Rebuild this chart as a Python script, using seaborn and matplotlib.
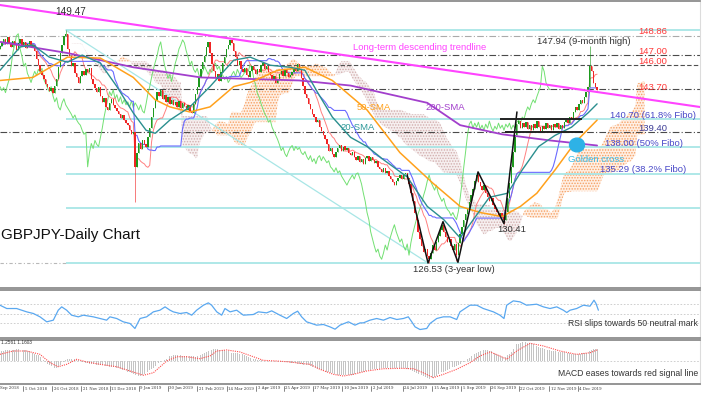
import numpy as np
import pandas as pd
import matplotlib
matplotlib.use("Agg")
import matplotlib.pyplot as plt
from matplotlib.patches import Ellipse
import seaborn as sns

# ---- daily closes (Sep 2018 -> Dec 2019), one per bar ----
CLOSES = [
    147.9, 148.3, 148.6, 148.1, 148.8, 148.2, 147.8, 148.4, 148.0, 147.5, 148.2, 148.6, 147.9, 148.3, 147.7, 148.1,
    148.4, 147.8, 148.0, 147.4, 146.6, 146.0, 145.4, 145.0, 144.6, 144.2, 143.9, 143.5, 143.8, 143.3, 144.0, 144.6,
    145.8, 147.2, 148.0, 148.9, 149.1, 147.6, 146.9, 145.9, 146.2, 145.2, 144.8, 144.3, 144.9, 145.4, 145.0, 145.6,
    145.3, 145.7, 144.6, 144.2, 143.8, 143.4, 143.9, 143.0, 142.4, 142.8, 141.9, 141.6, 142.3, 142.7, 142.1, 141.8,
    141.5, 141.2, 140.8, 141.1, 140.6, 140.3, 140.1, 139.6, 139.2, 139.4, 136.0, 137.4, 138.3, 137.8, 138.6, 138.2,
    138.0, 138.9, 139.8, 140.9, 141.8, 142.6, 143.4, 143.0, 143.6, 142.7, 143.1, 142.4, 142.9, 142.2, 142.6, 142.1,
    142.4, 141.9, 142.5, 141.8, 142.3, 142.0, 141.6, 142.1, 141.5, 141.3, 142.2, 143.2, 143.9, 144.8, 145.6, 146.3,
    146.9, 147.8, 148.3, 147.2, 146.1, 145.4, 144.7, 145.1, 144.4, 145.3, 146.2, 146.8, 147.6, 148.0, 148.5, 148.2,
    147.4, 146.8, 146.0, 146.4, 145.6, 145.3, 145.7, 145.0, 144.8, 145.4, 145.9, 145.5, 145.1, 145.6, 145.3, 146.0,
    146.2, 145.6, 145.9, 145.3, 145.0, 144.6, 144.9, 144.3, 144.6, 145.1, 145.4, 144.9, 145.6, 145.2, 144.8, 145.0,
    145.3, 145.7, 145.4, 146.1, 145.6, 144.7, 144.0, 143.2, 142.8, 142.2, 141.7, 141.2, 140.9, 140.4, 140.6, 139.9,
    139.5, 139.1, 138.7, 138.2, 137.6, 137.9, 137.3, 137.0, 137.5, 137.9, 138.1, 137.6, 138.0, 137.7, 137.9, 137.4,
    137.2, 137.5, 137.0, 136.7, 137.1, 136.5, 136.8, 136.3, 136.9, 137.1, 136.6, 137.0, 136.7, 136.4, 136.6, 136.0,
    135.8, 135.5, 135.9, 135.4, 135.6, 135.1, 134.8, 134.5, 134.2, 134.6, 134.9, 135.2, 134.8, 135.3, 135.4, 134.9,
    134.3, 133.4, 132.6, 131.5, 130.8, 129.6, 128.9, 128.2, 127.6, 127.9, 127.2, 126.9, 127.5, 128.3, 127.8, 128.6,
    129.2, 129.8, 130.3, 129.6, 129.1, 128.6, 128.9, 128.2, 127.8, 128.4, 127.3, 128.5, 129.4, 130.1, 130.8, 131.4,
    131.9, 132.5, 133.2, 133.8, 134.6, 135.2, 134.5, 134.1, 133.7, 134.2, 133.4, 133.0, 132.6, 132.9, 132.2, 131.8,
    131.6, 131.2, 131.5, 131.1, 130.8, 131.6, 132.9, 134.4, 136.0, 137.5, 139.1, 140.2, 140.5, 139.8, 140.3, 139.9,
    140.4, 139.7, 140.1, 139.6, 140.2, 139.8, 140.5, 139.9, 139.5, 140.0, 139.7, 140.3, 139.8, 140.1, 139.6, 140.2,
    139.9, 140.3, 139.7, 140.1, 139.8, 140.4, 140.6, 140.3, 140.9, 140.7, 141.4, 141.9, 141.6, 142.2, 142.6, 142.3,
    142.9, 143.4, 143.9, 145.9, 145.4, 144.3, 143.9, 143.6,
]
FIRST_OPEN = 147.6
# visible long wicks
WICK_BARS = [36, 74, 235, 250, 276, 323]
WICK_PRICES = [149.47, 132.5, 126.53, 126.7, 130.41, 147.94]

# moving averages read at a few points
SMA20_BARS = [0, 11, 18, 27, 37, 45, 55, 64, 73, 80, 85, 93, 104, 115, 128, 137, 148, 159, 167, 174,
              182, 192, 201, 210, 223, 234, 243, 252, 268, 278, 286, 295, 304, 313, 322, 327]
SMA20 = [145.5, 147.8, 148.0, 146.8, 146.3, 147.0, 146.2, 143.9, 141.3, 139.6, 139.3, 140.6, 141.9, 143.9,
         146.5, 146.8, 146.0, 145.8, 145.5, 143.3, 140.9, 138.9, 138.0, 136.7, 135.0, 132.1, 130.8, 129.0,
         133.0, 133.4, 135.7, 138.0, 139.1, 139.9, 141.3, 142.2]
SMA50_BARS = [0, 18, 37, 55, 73, 85, 93, 104, 115, 128, 137, 152, 167, 182, 201, 219, 237, 252, 263,
              275, 285, 294, 304, 315, 327]
SMA50 = [144.5, 144.8, 146.8, 146.7, 144.8, 142.6, 141.9, 141.4, 141.9, 143.9, 144.3, 145.5, 145.8,
         144.5, 141.6, 137.4, 134.4, 132.1, 131.5, 131.1, 132.1, 133.4, 135.7, 138.4, 140.6]
SMA200_BARS = [0, 37, 73, 110, 164, 192, 234, 252, 275, 301, 327]
SMA200 = [148.3, 147.2, 145.8, 144.8, 144.5, 144.0, 142.3, 140.1, 139.2, 138.6, 138.1]

# RSI(14)
RSI_BARS = [0, 3.7, 9.1, 14.6, 18.3, 21.9, 25.6, 29.2, 31.9, 33.8, 36.5, 39.2, 42.9, 45.6, 51.1, 54.8,
            58.4, 60.2, 63.9, 67.5, 71.2, 73.9, 76.7, 80.3, 84.0, 87.6, 90.4, 93.1, 94.9, 98.6, 102.2,
            105.0, 107.7, 111.4, 114.1, 115.9, 118.7, 121.4, 123.2, 126.0, 129.6, 133.3, 138.7, 141.5,
            146.0, 148.8, 153.3, 157.0, 160.6, 163.0, 165.2, 167.9, 173.4, 177.1, 180.7, 183.5, 186.2,
            190.8, 194.4, 197.2, 199.0, 202.6, 206.3, 210.0, 213.6, 217.3, 220.9, 223.6, 225.5, 227.3,
            230.0, 233.7, 235.5, 239.2, 242.8, 246.5, 250.1, 251.9, 257.4, 261.1, 264.7, 270.2, 273.8,
            276.0, 277.5, 281.1, 284.8, 288.4, 293.9, 297.6, 301.2, 304.9, 308.5, 310.4, 312.2, 315.8,
            319.5, 323.1, 325.3, 326.4, 327.7]
RSI_VALUES = [68.0, 61.0, 61.0, 54.0, 50.5, 43.5, 33.0, 36.5, 57.5, 64.5, 57.5, 47.0, 43.5, 47.0, 43.5,
              40.0, 36.5, 43.5, 40.0, 33.0, 29.5, 19.0, 40.0, 43.5, 54.0, 57.5, 64.5, 57.5, 54.0, 50.5,
              52.6, 47.0, 57.5, 68.0, 72.9, 68.0, 54.0, 47.0, 61.0, 54.0, 57.5, 47.0, 48.4, 54.0, 51.9,
              56.1, 47.0, 40.0, 50.5, 55.4, 43.5, 33.0, 26.0, 27.4, 22.4, 17.5, 26.0, 33.0, 26.0, 30.8,
              30.8, 36.5, 40.0, 36.5, 42.1, 37.9, 40.0, 43.5, 33.0, 22.4, 16.8, 19.0, 29.5, 40.0, 43.5,
              43.5, 37.9, 54.0, 68.0, 68.0, 61.0, 54.0, 47.0, 40.0, 68.0, 77.1, 75.0, 68.0, 70.1, 64.5,
              61.0, 64.5, 57.5, 52.6, 57.5, 61.0, 68.0, 65.9, 78.5, 71.5, 57.5]
RSI_LEVELS = [70, 50, 30]

# MACD main (histogram, one per bar) and signal line
MACD_MAIN = [
    1.05, 1.07, 1.09, 1.11, 1.13, 1.15, 1.17, 1.19, 1.20, 1.21, 1.22, 1.23, 1.22, 1.18, 1.14, 1.10,
    1.06, 0.98, 0.88, 0.78, 0.66, 0.58, 0.45, 0.25, 0.07, -0.12, -0.27, -0.42, -0.57, -0.68, -0.70, -0.70,
    -0.62, -0.45, -0.28, -0.10, 0.10, 0.18, 0.21, 0.23, 0.24, 0.20, 0.13, 0.08, 0.02, -0.08, -0.17, -0.22,
    -0.24, -0.27, -0.30, -0.33, -0.35, -0.37, -0.39, -0.42, -0.45, -0.48, -0.52, -0.55, -0.59, -0.62, -0.66, -0.70,
    -0.72, -0.78, -0.85, -0.92, -0.98, -1.04, -1.12, -1.20, -1.29, -1.38, -1.47, -1.52, -1.56, -1.58, -1.52, -1.40,
    -1.29, -1.14, -0.98, -0.84, -0.70, -0.55, -0.40, -0.26, -0.15, -0.02, 0.12, 0.24, 0.36, 0.48, 0.55, 0.58,
    0.60, 0.60, 0.59, 0.58, 0.57, 0.55, 0.54, 0.52, 0.51, 0.49, 0.48, 0.46, 0.48, 0.56, 0.63, 0.70,
    0.80, 0.93, 1.05, 1.14, 1.18, 1.21, 1.23, 1.22, 1.20, 1.18, 1.16, 1.12, 1.07, 1.01, 0.95, 0.89,
    0.85, 0.82, 0.79, 0.76, 0.73, 0.70, 0.62, 0.53, 0.44, 0.35, 0.27, 0.21, 0.16, 0.12, 0.08, 0.06,
    0.04, 0.02, 0.00, 0.00, 0.00, 0.00, 0.00, 0.00, -0.01, -0.03, -0.05, -0.07, -0.09, -0.11, -0.14, -0.16,
    -0.19, -0.22, -0.25, -0.28, -0.31, -0.34, -0.37, -0.40, -0.43, -0.45, -0.51, -0.59, -0.66, -0.73, -0.80, -0.87,
    -0.93, -1.00, -1.07, -1.14, -1.20, -1.26, -1.31, -1.36, -1.41, -1.45, -1.49, -1.50, -1.50, -1.50, -1.50, -1.50,
    -1.48, -1.43, -1.38, -1.33, -1.28, -1.23, -1.18, -1.13, -1.08, -1.03, -0.98, -0.93, -0.89, -0.87, -0.85, -0.82,
    -0.79, -0.76, -0.74, -0.72, -0.70, -0.70, -0.70, -0.70, -0.70, -0.70, -0.70, -0.71, -0.73, -0.75, -0.77, -0.79,
    -0.81, -0.90, -1.00, -1.11, -1.22, -1.32, -1.40, -1.50, -1.60, -1.72, -1.82, -1.86, -1.84, -1.78, -1.68, -1.55,
    -1.40, -1.29, -1.20, -1.11, -1.02, -0.93, -0.84, -0.76, -0.67, -0.58, -0.50, -0.41, -0.33, -0.22, -0.10, 0.02,
    0.18, 0.35, 0.52, 0.66, 0.76, 0.86, 0.96, 1.05, 1.08, 1.11, 1.14, 1.16, 1.10, 1.00, 0.90, 0.80,
    0.70, 0.60, 0.50, 0.40, 0.35, 0.45, 0.58, 0.70, 0.98, 1.26, 1.54, 1.75, 1.83, 1.90, 1.96, 2.00,
    1.97, 1.93, 1.89, 1.86, 1.78, 1.69, 1.60, 1.50, 1.40, 1.35, 1.30, 1.25, 1.20, 1.15, 1.10, 1.07,
    1.02, 1.00, 0.97, 0.95, 0.92, 0.90, 0.87, 0.84, 0.81, 0.78, 0.75, 0.72, 0.70, 0.73, 0.76, 0.79,
    0.82, 0.87, 0.95, 1.05, 1.14, 1.23, 1.30, 1.26,
]
SIGNAL_BARS = [0, 7.3, 14.6, 21.9, 27.4, 31.9, 36.5, 42, 47.5, 54.8, 63.9, 73, 78.5, 84, 91.3, 96.8, 102.2,
               109.5, 115, 118.7, 124.1, 131.4, 138.7, 144.2, 151.5, 158.8, 164.3, 169.8, 175.2, 182.6, 188,
               193.5, 200.8, 209.9, 219.1, 226.4, 231.8, 237.3, 242.8, 250.1, 257.4, 262.9, 268.4, 273.8,
               277.5, 283, 290.3, 297.6, 306.7, 315.8, 323.1, 327]
SIGNAL = [0.70, 1.05, 1.05, 0.70, -0.18, -0.60, -0.35, 0.18, -0.10, -0.35, -0.60, -1.16, -1.50, -1.23, 0.0,
          0.45, 0.45, 0.24, 0.53, 1.05, 1.16, 0.95, 0.45, 0.07, 0.0, -0.10, -0.24, -0.35, -0.87, -1.40,
          -1.58, -1.40, -1.05, -0.81, -0.77, -0.81, -1.23, -1.75, -1.40, -0.87, -0.18, 0.53, 0.95, 0.53,
          0.18, 1.05, 1.86, 1.58, 1.05, 0.70, 0.87, 1.16]

# analysis drawings
LEVELS = [148.86, 147.00, 146.00, 143.70, 139.40]
FIBO_LEVELS = [149.47, 140.70, 138.00, 135.29, 131.94, 126.53]
FIBO_FROM_BAR = 36
FIBO_DIAG_BARS = [36, 234.4]
FIBO_DIAG_PRICES = [149.47, 126.53]
TREND_BARS = [0, 383.3]
TREND_PRICES = [151.93, 141.89]
ZIGZAG_BARS = [223, 234.4, 242.6, 250.8, 261.8, 276, 283.1]
ZIGZAG_PRICES = [135.2, 126.53, 130.6, 126.6, 135.5, 130.41, 141.4]
RANGE_TOP = (273.8, 318.7, 140.70)
RANGE_BOTTOM = (276.6, 319.3, 139.40)
GOLDEN_CROSS = (316, 138.15)

DATE_TICKS = [12.6, 28.5, 44.4, 60.2, 76.1, 92, 107.9, 124.3, 140.2, 155.5, 171.4, 187.3,
              203.2, 220.7, 236.6, 252.5, 268.3, 284.2, 300.7, 316.5]
DATE_LABELS = ["5 Oct 2018", "26 Oct 2018", "21 Nov 2018", "13 Dec 2018", "9 Jan 2019",
               "30 Jan 2019", "21 Feb 2019", "14 Mar 2019", "3 Apr 2019", "25 Apr 2019", "17 May 2019",
               "10 Jun 2019", "2 Jul 2019", "24 Jul 2019", "15 Aug 2019", "5 Sep 2019", "26 Sep 2019",
               "22 Oct 2019", "12 Nov 2019", "4 Dec 2019"]

# ---- colours ----
UP_C, DN_C = "#1e9a1e", "#f02424"
TENKAN_C, KIJUN_C, CHIKOU_C = "#ff6a6a", "#6a6aff", "#72e072"
SMA20_C, SMA50_C, SMA200_C = "#2b8f8f", "#ffa11c", "#a23fcc"
FIBO_C, TREND_C = "#a8e6e6", "#ff44ff"
RED_TXT, BLUE_TXT, DARK_TXT = "#ff3838", "#4848c8", "#333333"

W, H = 709, 399
sns.set_style("white")
plt.rcParams["font.family"] = ["Liberation Sans", "DejaVu Sans"]
plt.rcParams["hatch.linewidth"] = 0.7

fig = plt.figure(figsize=(W / 100, H / 100), dpi=100)


def rect(top, bottom, right=700):
    return [0, 1 - bottom / H, right / W, (bottom - top) / H]


ax = fig.add_axes(rect(1.5, 288))
ax_rsi = fig.add_axes(rect(290, 337.5))
ax_macd = fig.add_axes(rect(339.5, 384))

PX_PER_BAR = 1.826
XMAX = 700 / PX_PER_BAR
for a in (ax, ax_rsi, ax_macd):
    a.set_xlim(0, XMAX)
    a.set_xticks([])
    a.set_yticks([])
    a.set_facecolor("white")
    a.spines["left"].set_visible(False)
    a.spines["right"].set_color("#dcdcdc")
    a.spines["right"].set_linewidth(0.8)
    for s in ("top", "bottom"):
        a.spines[s].set_color("#8c8c8c")
        a.spines[s].set_linewidth(1.3)

# price scale: 149.47 sits at y=30px, 126.53 at y=263px
ppu = (263 - 30) / (149.47 - 126.53)
ax.set_ylim(126.53 - (288 - 263) / ppu, 149.47 + (30 - 1.5) / ppu)

closes = np.array(CLOSES)
bars = np.arange(len(closes))
opens = np.r_[FIRST_OPEN, closes[:-1]]
highs = np.maximum(opens, closes)
lows = np.minimum(opens, closes)
for b, p in zip(WICK_BARS, WICK_PRICES):
    highs[b] = max(highs[b], p)
    lows[b] = min(lows[b], p)

# ---- Ichimoku from the bars ----
hi, lo = pd.Series(highs), pd.Series(lows)
tenkan = (hi.rolling(9, min_periods=1).max() + lo.rolling(9, min_periods=1).min()) / 2
kijun = (hi.rolling(26, min_periods=1).max() + lo.rolling(26, min_periods=1).min()) / 2
span_a = ((tenkan + kijun) / 2).values
span_b = ((hi.rolling(52, min_periods=1).max() + lo.rolling(52, min_periods=1).min()) / 2).values
cloud_x = bars + 26
ax.fill_between(cloud_x, span_a, span_b, where=span_a >= span_b, interpolate=True,
                facecolor=(1.0, 0.72, 0.5, 0.22), edgecolor="#f5a064", hatch="......", lw=0, zorder=1)
ax.fill_between(cloud_x, span_a, span_b, where=span_a < span_b, interpolate=True,
                facecolor=(0.85, 0.72, 0.72, 0.22), edgecolor="#d2aeae", hatch="......", lw=0, zorder=1)

# ---- horizontal levels ----
for lvl in LEVELS:
    if lvl == 148.86:
        ax.axhline(lvl, color="#aaaaaa", lw=0.8, ls=(0, (6, 2, 1, 2)), zorder=2)
    elif lvl == 146.00:
        ax.axhline(lvl, color="#505050", lw=0.8, ls=(0, (4, 2)), zorder=2)
    else:
        ax.axhline(lvl, color="#4a4a4a", lw=0.8, ls=(0, (6, 2, 1, 2)), zorder=2)
ax.hlines(FIBO_LEVELS, FIBO_FROM_BAR, XMAX, color=FIBO_C, lw=1.3, zorder=2)
ax.hlines(FIBO_LEVELS[-1], 0, FIBO_FROM_BAR, color="#b8b8b8", lw=0.8, ls=(0, (3, 2, 1, 2)), zorder=2)
ax.plot(FIBO_DIAG_BARS, FIBO_DIAG_PRICES, color=FIBO_C, lw=0.9, zorder=2)

# ---- indicator lines ----
sns.lineplot(x=bars[:-26], y=closes[26:], ax=ax, color=CHIKOU_C, lw=0.7, estimator=None, sort=False, zorder=3)
sns.lineplot(x=bars, y=tenkan.values, ax=ax, color=TENKAN_C, lw=0.7, alpha=0.85, estimator=None, sort=False, zorder=4)
sns.lineplot(x=bars, y=kijun.values, ax=ax, color=KIJUN_C, lw=0.8, estimator=None, sort=False, zorder=4)

# ---- candles ----
colors = np.where(closes >= opens, UP_C, DN_C)
ax.vlines(bars, lows, highs, colors=colors, lw=0.6, alpha=0.7, zorder=5)
body_lo = np.minimum(opens, closes)
body_h = np.maximum(np.abs(closes - opens), 0.12)
ax.bar(bars, body_h, bottom=body_lo, width=0.75, color=colors, lw=0, zorder=5)

sns.lineplot(x=SMA200_BARS, y=SMA200, ax=ax, color=SMA200_C, lw=1.3, estimator=None, sort=False, zorder=6)
sns.lineplot(x=SMA50_BARS, y=SMA50, ax=ax, color=SMA50_C, lw=1.1, estimator=None, sort=False, zorder=6)
sns.lineplot(x=SMA20_BARS, y=SMA20, ax=ax, color=SMA20_C, lw=1.0, estimator=None, sort=False, zorder=6)

# ---- drawings ----
ax.plot(TREND_BARS, TREND_PRICES, color=TREND_C, lw=1.5, zorder=7)
ax.plot(ZIGZAG_BARS, ZIGZAG_PRICES, color="#111111", lw=1.1, zorder=7)
for x0, x1, y in (RANGE_TOP, RANGE_BOTTOM):
    ax.hlines(y, x0, x1, color="#222222", lw=1.4, zorder=7)
ax.add_patch(Ellipse(GOLDEN_CROSS, width=8.2, height=1.35, color="#2eb2e6", zorder=8))


def T(x, y, s, color=DARK_TXT, size=6.8, ha="left", **kw):
    fig.text(x / W, 1 - y / H, s, color=color, fontsize=size, ha=ha, va="center", **kw)


T(71, 12, "149.47", size=7.2, ha="center")
T(353, 47, "Long-term descending trendline", TREND_C)
T(537, 41, "147.94 (9-month high)")
T(638, 32, "148.86", RED_TXT)
T(638, 52, "147.00", RED_TXT)
T(638, 62, "146.00", RED_TXT)
T(638, 87, "143.70", RED_TXT)
T(610, 116, "140.70 (61.8% Fibo)", BLUE_TXT)
T(638, 129, "139.40", "#3c3c96")
T(605, 143, "138.00 (50% Fibo)", BLUE_TXT)
T(568, 159, "Golden cross", "#3cbde8")
T(600, 170, "135.29 (38.2% Fibo)", BLUE_TXT)
T(357, 107, "50-SMA", SMA50_C)
T(425, 107, "200-SMA", SMA200_C)
T(340, 127, "20-SMA", "#2f9a9a")
T(413, 270, "126.53 (3-year low)")
T(497, 230, "130.41")
T(1, 235, "GBPJPY-Daily Chart", "#111111", size=11.0)

# ---- RSI panel ----
ax_rsi.set_ylim(0, 100)
for lvl in RSI_LEVELS:
    ax_rsi.axhline(lvl, color="#c8c8c8", lw=0.6, ls=(0, (2, 2)))
sns.lineplot(x=RSI_BARS, y=RSI_VALUES, ax=ax_rsi, color="#5aa8f0", lw=0.9, estimator=None, sort=False)
T(698, 323, "RSI slips towards 50 neutral mark", size=6.2, ha="right")

# ---- MACD panel (zero line at y=361px, 0.105 per px) ----
ax_macd.set_ylim(-(384 - 361) * 0.105, (361 - 339.5) * 0.105)
ax_macd.axhline(0, color="#c8c8c8", lw=0.6, ls=(0, (2, 2)))
ax_macd.bar(bars[:len(MACD_MAIN)], MACD_MAIN, width=0.45, color="#c4c4c4", lw=0)
sns.lineplot(x=SIGNAL_BARS, y=SIGNAL, ax=ax_macd, color="#ff4c4c", lw=0.8, ls=(0, (1, 1)),
             estimator=None, sort=False)
T(1, 343, "1.2561 1.1603", size=3.4)
T(698, 373, "MACD eases towards red signal line", size=6.2, ha="right")

# ---- date axis ----
T(0.5, 388.5, "Sep 2018", "#333333", size=2.8, family="DejaVu Serif")
for pos, lab in zip(DATE_TICKS, DATE_LABELS):
    xp = pos * PX_PER_BAR
    fig.add_artist(plt.Line2D([xp / W, xp / W], [1 - 386 / H, 1 - 390.5 / H], color="#555555", lw=0.5))
    T(xp + 1.5, 388.5, lab, "#333333", size=2.8, family="DejaVu Serif")

for a in (ax, ax_rsi, ax_macd):
    a.set_xlabel("")
    a.set_ylabel("")

fig.savefig("out.png", dpi=100)
